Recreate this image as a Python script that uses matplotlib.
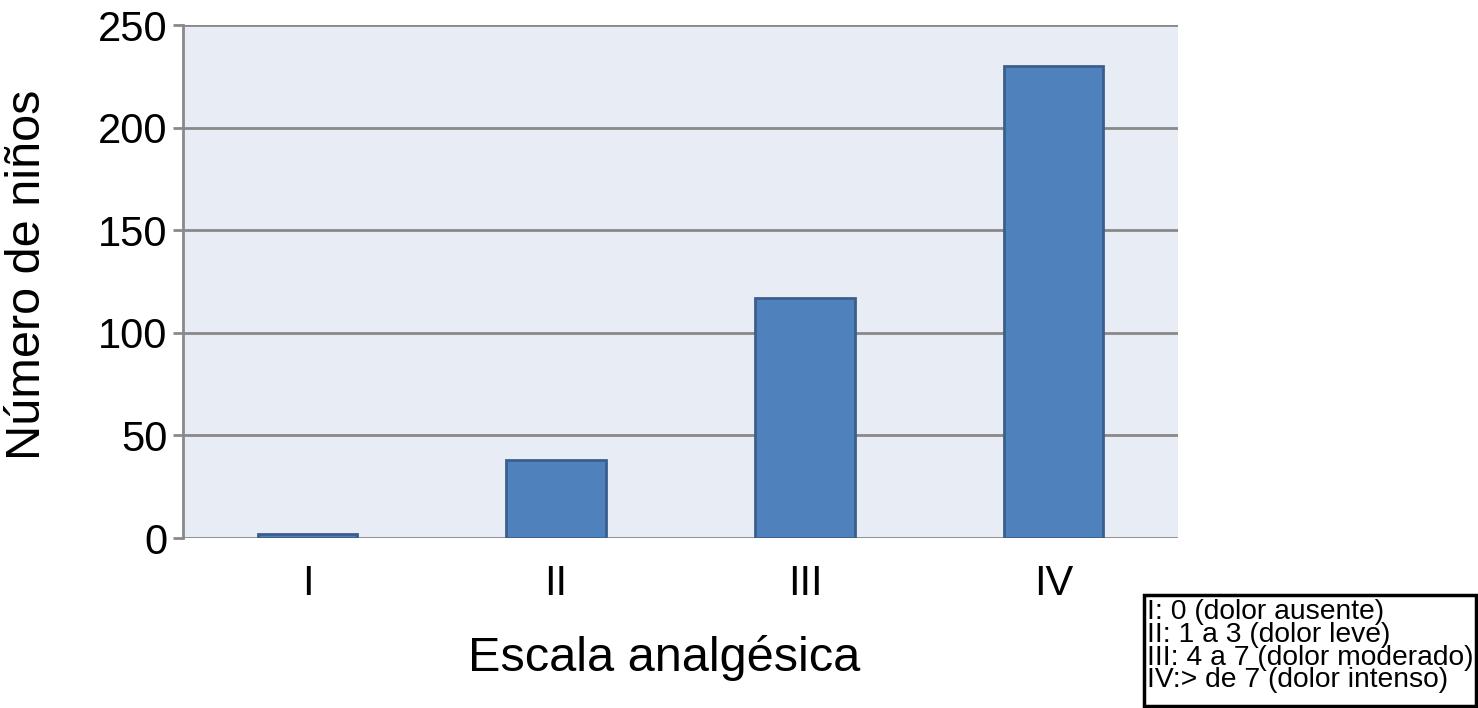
"""Bar chart: número de niños por escala analgésica."""

import matplotlib
import matplotlib.pyplot as plt

matplotlib.use("agg")

plt.rcParams["font.family"] = ["Liberation Sans", "DejaVu Sans"]

# Data
categories = ["I", "II", "III", "IV"]
counts = [2, 38, 117, 230]
y_ticks = [0, 50, 100, 150, 200, 250]
legend_lines = [
    "I: 0 (dolor ausente)",
    "II: 1 a 3 (dolor leve)",
    "III: 4 a 7 (dolor moderado)",
    "IV:> de 7 (dolor intenso)",
]

W, H = 1478, 708
fig = plt.figure(figsize=(W / 100, H / 100), dpi=100)
ax = fig.add_axes([183 / W, 1 - 538 / H, (1178 - 183) / W, (538 - 25) / H])

# Plot area background and grid behind the bars
ax.set_facecolor("#E8ECF4")
ax.grid(which="major", axis="y", color="#898989", linewidth=2.0, zorder=1)
ax.set_axisbelow(True)

x = list(range(len(categories)))
ax.bar(x, counts, width=0.4, color="#4F81BD", edgecolor="#3A5F8C", linewidth=2.0, zorder=2)

ax.set_xlim(-0.5, len(categories) - 0.5)
ax.set_ylim(0, 250)
ax.set_yticks(y_ticks)
ax.set_xticks(x)
ax.set_xticklabels(categories)

# Spines: only left (gray), the bottom is the 0 gridline
ax.spines[["top", "right", "bottom"]].set_visible(False)
ax.spines["left"].set_color("#898989")
ax.spines["left"].set_linewidth(2.0)

ax.yaxis.set_tick_params(labelsize=30, length=7, width=2.0, color="#898989", pad=4)
ax.xaxis.set_tick_params(labelsize=30, length=0, pad=19)

# Axis titles
fig.text(28 / W, 1 - 275 / H, "Número de niños", rotation=90, ha="center", va="center", fontsize=35)
fig.text(664 / W, 1 - 658 / H, "Escala analgésica", ha="center", va="center", fontsize=35)

# Key box in the lower right corner
fig.add_artist(
    plt.Rectangle(
        (1144 / W, 1 - 706 / H),
        (1476 - 1144) / W,
        (706 - 595) / H,
        transform=fig.transFigure,
        facecolor="white",
        edgecolor="black",
        linewidth=2.5,
    )
)
fig.text(
    1147 / W,
    1 - 599 / H,
    "\n".join(legend_lines),
    ha="left",
    va="top",
    fontsize=20.3,
    linespacing=0.84,
)

plt.savefig("out.png", dpi=100, facecolor="white")
